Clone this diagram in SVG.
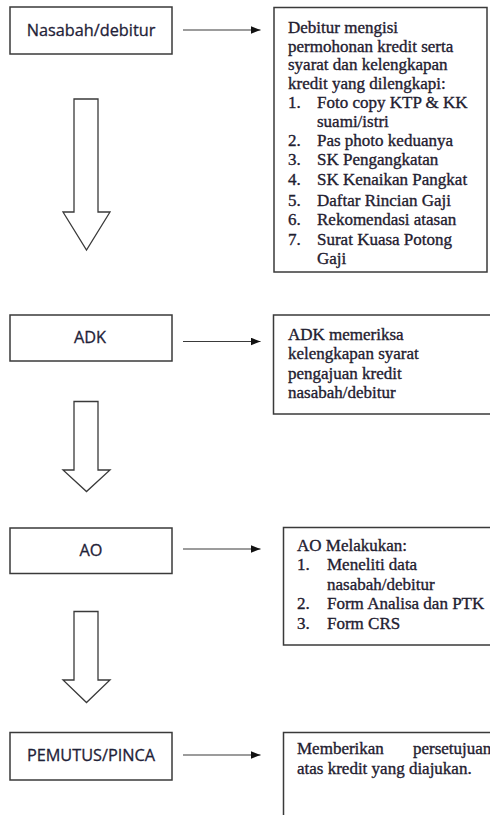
<svg xmlns="http://www.w3.org/2000/svg" width="490" height="815" viewBox="0 0 490 815">
<style>
.box{fill:#fff;stroke:#3a3a3a;stroke-width:1.5}
.lbl{font-family:"Open Sans","Liberation Sans",sans-serif;font-size:16.3px;fill:#1f2238;stroke:#1f2238;stroke-width:0.3;text-anchor:middle}
.txt{font-family:"Liberation Serif","Times New Roman",serif;font-size:17px;fill:#1f2030;stroke:#1f2030;stroke-width:0.35}
.con{stroke:#3a3a3a;stroke-width:1.2;fill:none}
.big{fill:#fff;stroke:#3a3a3a;stroke-width:1.3;stroke-linejoin:miter}
</style>
<defs>
<marker id="ah" viewBox="0 0 10 8" refX="10" refY="4" markerWidth="10" markerHeight="8" markerUnits="userSpaceOnUse" orient="auto">
<path d="M0,0 L10,4 L0,8 Z" fill="#111"/>
</marker>
</defs>
<rect width="490" height="815" fill="#fff"/>

<g id="connectors">
<line class="con" x1="183" y1="30" x2="260.5" y2="30" marker-end="url(#ah)"/>
<line class="con" x1="183" y1="341.5" x2="260.5" y2="341.5" marker-end="url(#ah)"/>
<line class="con" x1="183" y1="549" x2="260.5" y2="549" marker-end="url(#ah)"/>
<line class="con" x1="183" y1="755" x2="260.5" y2="755" marker-end="url(#ah)"/>
<path class="big" d="M74,99 H98 V212 H110 L86.5,250 L63,212 H74 Z"/>
<path class="big" d="M74,401.5 H98 V470 H110 L86.5,491.5 L63,470 H74 Z"/>
<path class="big" d="M74,611.5 H98 V680 H110 L86.5,702.5 L63,680 H74 Z"/>
</g>

<g id="nasabah">
<rect class="box" x="10" y="7" width="162" height="47"/>
<text class="lbl" x="91" y="36">Nasabah/debitur</text>
</g>

<g id="syarat">
<rect class="box" x="274" y="7.5" width="213" height="264.5"/>
<text class="txt">
<tspan x="288" y="33">Debitur mengisi</tspan>
<tspan x="288" y="51.5">permohonan kredit serta</tspan>
<tspan x="288" y="70">syarat dan kelengkapan</tspan>
<tspan x="288" y="88.5">kredit yang dilengkapi:</tspan>
<tspan x="288" y="108">1.</tspan><tspan x="317" y="108">Foto copy KTP &amp; KK</tspan>
<tspan x="317" y="127">suami/istri</tspan>
<tspan x="288" y="146">2.</tspan><tspan x="317" y="146">Pas photo keduanya</tspan>
<tspan x="288" y="165">3.</tspan><tspan x="317" y="165">SK Pengangkatan</tspan>
<tspan x="288" y="184.5">4.</tspan><tspan x="317" y="184.5">SK Kenaikan Pangkat</tspan>
<tspan x="288" y="205.5">5.</tspan><tspan x="317" y="205.5">Daftar Rincian Gaji</tspan>
<tspan x="288" y="225">6.</tspan><tspan x="317" y="225">Rekomendasi atasan</tspan>
<tspan x="288" y="244.5">7.</tspan><tspan x="317" y="244.5">Surat Kuasa Potong</tspan>
<tspan x="317" y="263.5">Gaji</tspan>
</text>
</g>

<g id="adk">
<rect class="box" x="10" y="315" width="162" height="46"/>
<text class="lbl" x="90" y="343">ADK</text>
</g>

<g id="adk-desc">
<rect class="box" x="273.5" y="315" width="230" height="99"/>
<text class="txt">
<tspan x="288" y="339.5">ADK memeriksa</tspan>
<tspan x="288" y="359">kelengkapan syarat</tspan>
<tspan x="288" y="378.5">pengajuan kredit</tspan>
<tspan x="288" y="398">nasabah/debitur</tspan>
</text>
</g>

<g id="ao">
<rect class="box" x="10" y="528" width="162" height="45.5"/>
<text class="lbl" x="91" y="556">AO</text>
</g>

<g id="ao-desc">
<rect class="box" x="283.5" y="527.5" width="220" height="117.5"/>
<text class="txt">
<tspan x="297" y="551">AO Melakukan:</tspan>
<tspan x="297" y="570">1.</tspan><tspan x="327" y="570">Meneliti data</tspan>
<tspan x="327" y="589.5">nasabah/debitur</tspan>
<tspan x="297" y="609">2.</tspan><tspan x="327" y="609">Form Analisa dan PTK</tspan>
<tspan x="297" y="628.5">3.</tspan><tspan x="327" y="628.5">Form CRS</tspan>
</text>
</g>

<g id="pemutus">
<rect class="box" x="10" y="732.5" width="162" height="47.5"/>
<text class="lbl" x="91" y="761">PEMUTUS/PINCA</text>
</g>

<g id="pemutus-desc">
<rect class="box" x="283.5" y="732.5" width="220" height="100"/>
<text class="txt">
<tspan x="297" y="753.5">Memberikan</tspan><tspan x="413" y="753.5">persetujuan</tspan>
<tspan x="297" y="773.5">atas kredit yang diajukan.</tspan>
</text>
</g>
</svg>
